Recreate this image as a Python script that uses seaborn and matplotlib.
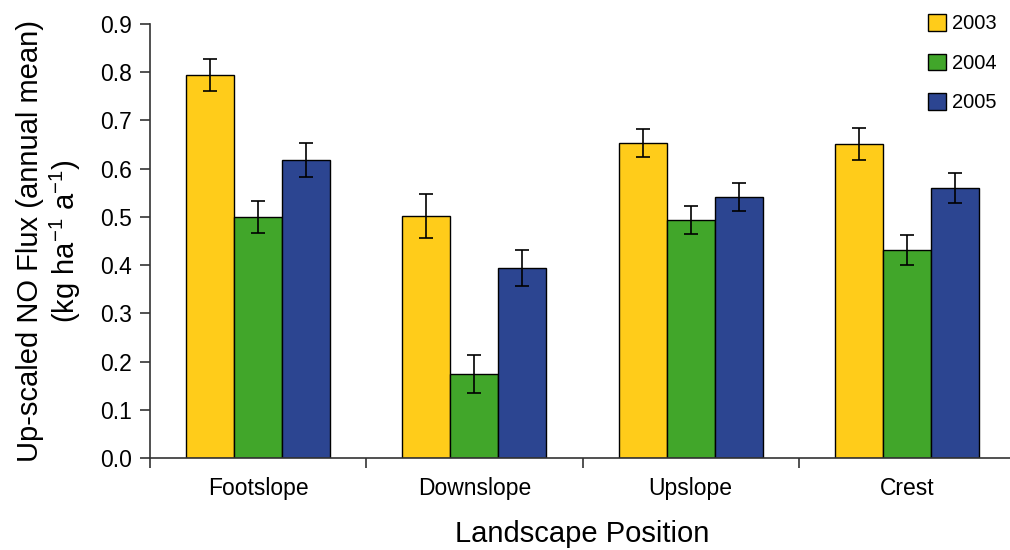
import matplotlib
matplotlib.use("Agg")
import matplotlib.pyplot as plt
import seaborn as sns
import pandas as pd
import numpy as np
from matplotlib.ticker import FixedLocator, FormatStrFormatter

positions = ["Footslope", "Downslope", "Upslope", "Crest"]
years = ["2003", "2004", "2005"]
flux_2003 = [0.794, 0.502, 0.653, 0.651]
flux_2004 = [0.500, 0.174, 0.494, 0.431]
flux_2005 = [0.618, 0.394, 0.541, 0.560]
err_2003 = [0.033, 0.045, 0.029, 0.033]
err_2004 = [0.033, 0.040, 0.029, 0.031]
err_2005 = [0.035, 0.037, 0.029, 0.031]
y_ticks = [0.0, 0.1, 0.2, 0.3, 0.4, 0.5, 0.6, 0.7, 0.8, 0.9]

colors = ["#FFCC1A", "#41A62A", "#2C4591"]

sns.set_theme(style="white")
plt.rcParams["font.family"] = ["Liberation Sans", "DejaVu Sans"]
plt.rcParams["mathtext.default"] = "regular"
plt.rcParams["text.color"] = "black"
plt.rcParams["axes.labelcolor"] = "black"
plt.rcParams["xtick.color"] = "black"
plt.rcParams["ytick.color"] = "black"

errors = [err_2003, err_2004, err_2005]
df = pd.DataFrame({
    "Position": positions * 3,
    "Year": [y for y in years for _ in positions],
    "Flux": flux_2003 + flux_2004 + flux_2005,
})

fig = plt.figure(figsize=(10.1, 5.5), dpi=100)
ax = fig.add_axes([150 / 1010, 92 / 550, 865 / 1010, 434 / 550])

sns.barplot(data=df, x="Position", y="Flux", hue="Year", order=positions,
            hue_order=years, palette=colors, width=0.666, errorbar=None,
            edgecolor="black", linewidth=1.0, saturation=1, ax=ax)

for cont, errs in zip(ax.containers, errors):
    for bar, e in zip(cont, errs):
        cx = bar.get_x() + bar.get_width() / 2
        h = bar.get_height()
        ax.errorbar(cx, h, yerr=e, fmt="none", ecolor="black",
                    elinewidth=1.2, capsize=5, capthick=1.2)

ax.set_xlim(-0.5, 3.5)
ax.set_ylim(0, 0.9)
ax.yaxis.set_major_locator(FixedLocator(y_ticks))
ax.yaxis.set_major_formatter(FormatStrFormatter("%.1f"))
ax.xaxis.set_minor_locator(FixedLocator([-0.5, 0.5, 1.5, 2.5]))
ax.tick_params(axis="x", which="major", length=0, pad=14, labelsize=16.5,
               labelcolor="black")
ax.tick_params(axis="x", which="minor", length=7, width=1.2, direction="out",
               bottom=True, color="#333333")
ax.tick_params(axis="y", which="major", length=7, width=1.2, direction="out",
               left=True, labelsize=16.5, pad=6, color="#333333",
               labelcolor="black")

for s in ["top", "right"]:
    ax.spines[s].set_visible(False)
for s in ["left", "bottom"]:
    ax.spines[s].set_color("#333333")
    ax.spines[s].set_linewidth(1.2)

ax.set_xlabel("Landscape Position", fontsize=21, labelpad=14, color="black")
ax.set_ylabel("Up-scaled NO Flux (annual mean)\n(kg ha$^{-1}$ a$^{-1}$)",
              fontsize=21, labelpad=12, linespacing=1.15, color="black")

leg = ax.legend(title=None, frameon=False, loc="upper left",
                bbox_to_anchor=(918 / 1010, 1 - 4 / 550),
                bbox_transform=fig.transFigure, fontsize=14.5,
                handlelength=0.9, handleheight=0.9, handletextpad=0.3,
                labelspacing=1.0, borderpad=0)
for t in leg.get_texts():
    t.set_color("black")

fig.savefig("out.png", dpi=100)
